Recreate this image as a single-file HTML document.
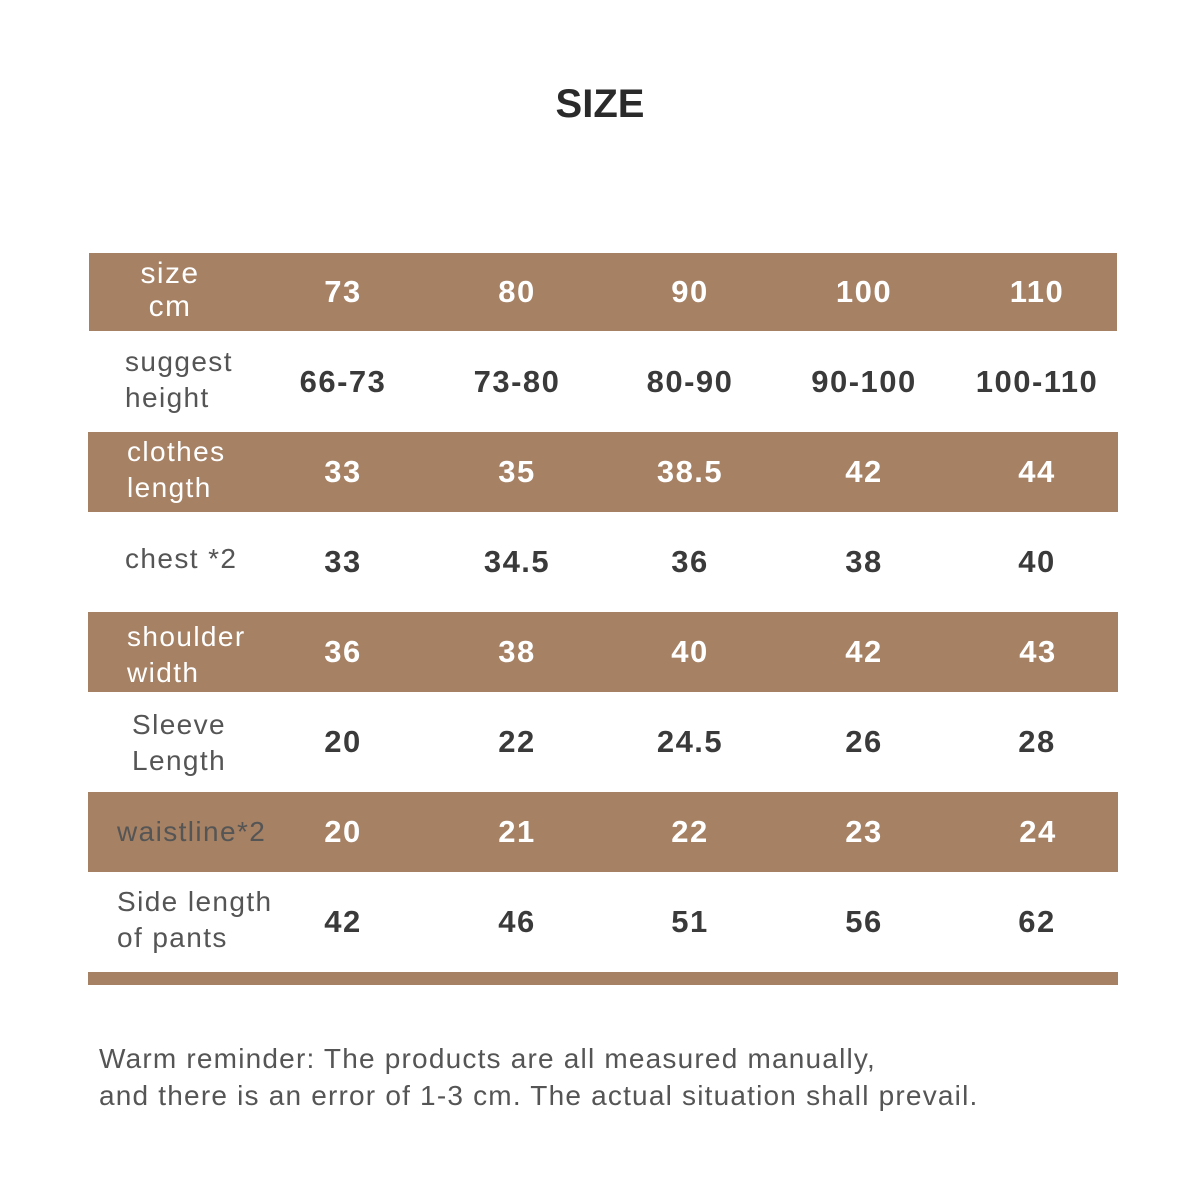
<!DOCTYPE html>
<html><head><meta charset="utf-8"><style>
body{margin:0;width:1200px;height:1179px;background:#fff;position:relative;font-family:"Liberation Sans",sans-serif;overflow:hidden}
.t{position:absolute;white-space:nowrap}
.band{position:absolute;left:88px;width:1030px;background:#a68164}
.v{position:absolute;transform:translate(-50%,-50%);font-size:31px;font-weight:bold;white-space:nowrap;letter-spacing:1.5px}
.l{position:absolute;font-size:28px;line-height:36px;white-space:nowrap;letter-spacing:1.4px}
.w{color:#fff}.d{color:#3a3a3a}.g{color:#555}
</style></head><body>
<div class="t" style="left:0;width:1200px;top:82px;text-align:center;font-size:40px;font-weight:bold;color:#2a2a2a">SIZE</div>
<div class="band" style="top:253px;height:78px;left:89px;width:1028px"></div>
<div class="band" style="top:432px;height:80px"></div>
<div class="band" style="top:612px;height:80px"></div>
<div class="band" style="top:792px;height:80px"></div>
<div class="band" style="top:972px;height:13px"></div>

<div class="l w" style="left:100px;width:140px;text-align:center;top:257px;line-height:33px;font-size:30px">size<br>cm</div>
<div class="l g" style="left:125px;top:344px">suggest<br>height</div>
<div class="l w" style="left:127px;top:434px">clothes<br>length</div>
<div class="l g" style="left:125px;top:541px">chest *2</div>
<div class="l w" style="left:127px;top:619px">shoulder<br>width</div>
<div class="l g" style="left:132px;top:707px">Sleeve<br>Length</div>
<div class="l" style="left:117px;top:814px;color:#555">waistline*2</div>
<div class="l g" style="left:117px;top:884px">Side length<br>of pants</div>

<div class="v w" style="left:343px;top:292px">73</div><div class="v w" style="left:517px;top:292px">80</div><div class="v w" style="left:690px;top:292px">90</div><div class="v w" style="left:864px;top:292px">100</div><div class="v w" style="left:1037px;top:292px">110</div>
<div class="v d" style="left:343px;top:382px">66-73</div><div class="v d" style="left:517px;top:382px">73-80</div><div class="v d" style="left:690px;top:382px">80-90</div><div class="v d" style="left:864px;top:382px">90-100</div><div class="v d" style="left:1037px;top:382px">100-110</div>
<div class="v w" style="left:343px;top:472px">33</div><div class="v w" style="left:517px;top:472px">35</div><div class="v w" style="left:690px;top:472px">38.5</div><div class="v w" style="left:864px;top:472px">42</div><div class="v w" style="left:1037px;top:472px">44</div>
<div class="v d" style="left:343px;top:562px">33</div><div class="v d" style="left:517px;top:562px">34.5</div><div class="v d" style="left:690px;top:562px">36</div><div class="v d" style="left:864px;top:562px">38</div><div class="v d" style="left:1037px;top:562px">40</div>
<div class="v w" style="left:343px;top:652px">36</div><div class="v w" style="left:517px;top:652px">38</div><div class="v w" style="left:690px;top:652px">40</div><div class="v w" style="left:864px;top:652px">42</div><div class="v w" style="left:1038px;top:652px">43</div>
<div class="v d" style="left:343px;top:742px">20</div><div class="v d" style="left:517px;top:742px">22</div><div class="v d" style="left:690px;top:742px">24.5</div><div class="v d" style="left:864px;top:742px">26</div><div class="v d" style="left:1037px;top:742px">28</div>
<div class="v w" style="left:343px;top:832px">20</div><div class="v w" style="left:517px;top:832px">21</div><div class="v w" style="left:690px;top:832px">22</div><div class="v w" style="left:864px;top:832px">23</div><div class="v w" style="left:1038px;top:832px">24</div>
<div class="v d" style="left:343px;top:922px">42</div><div class="v d" style="left:517px;top:922px">46</div><div class="v d" style="left:690px;top:922px">51</div><div class="v d" style="left:864px;top:922px">56</div><div class="v d" style="left:1037px;top:922px">62</div>

<div class="t" style="left:99px;top:1040px;font-size:28px;line-height:37px;color:#555;letter-spacing:1.2px">Warm reminder: The products are all measured manually,<br>and there is an error of 1-3 cm. The actual situation shall prevail.</div>
</body></html>
